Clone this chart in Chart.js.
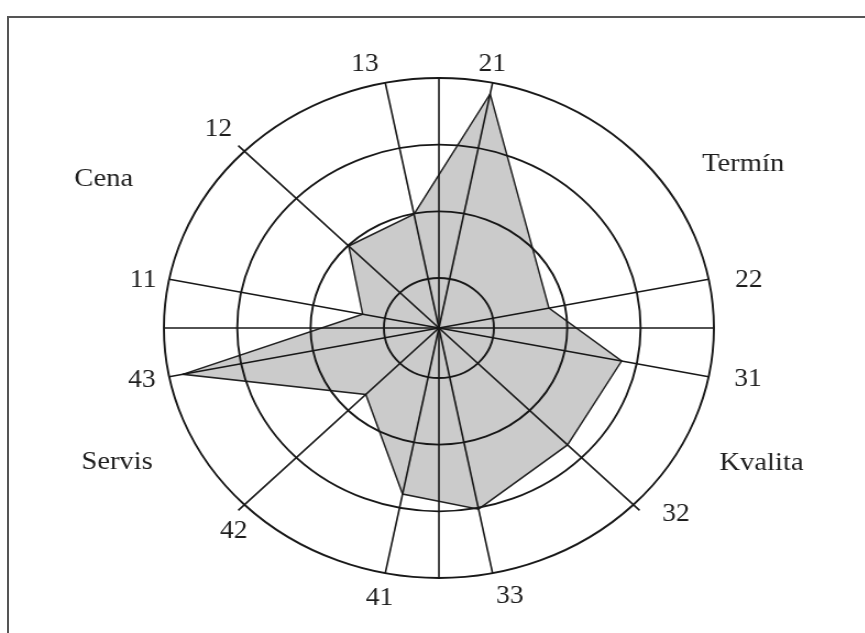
<!DOCTYPE html>
<html><head><meta charset="utf-8">
<script src="https://cdn.jsdelivr.net/npm/chart.js@4.4.1/dist/chart.umd.min.js"></script>
<style>
html,body{margin:0;padding:0;background:#fff;}
body{width:865px;height:633px;overflow:hidden;position:relative;}
#frame{position:absolute;left:7px;top:16px;width:900px;height:700px;border-left:2px solid #555;border-top:2px solid #555;}
#wrap{position:absolute;left:0;top:0;width:786px;height:633px;transform:scaleX(1.1);transform-origin:0 0;}
</style></head><body>
<div id="frame"></div>
<div id="wrap"><canvas id="c"></canvas></div>
<script>
// ---- data ----
const criteria = ['21','22','31','32','33','41','42','43','11','12','13'];
const scores   = [3.83, 1.78, 2.79, 2.73, 3.02, 2.79, 1.66, 3.81, 1.31, 1.99, 1.99];
const groups   = ['Termín','Kvalita','Servis','Cena'];
const ringTicks = [0.25, 1, 2, 3, 4];

// ---- layout (angular slots of 11.25°) ----
const SLOTS = 32;
const criterionSlot = [1, 7, 9, 12, 15, 17, 20, 23, 25, 28, 31];
const axisSlots = [0, 8, 16, 24];
const longSlots = [12, 20, 28];
const criterionLabelPos = [[10.4,268],[80.5,285.6],[100.4,285.6],[130.9,285],[166.5,276],[191.3,275.3],[222.5,276],[259,275],[280,273],[314.7,282],[345.7,272]];
const groupLabelPos = [[59.3,321.6],[114.8,323],[245.3,322],[296,339]];

const labels = new Array(SLOTS).fill('');
const values = new Array(SLOTS).fill(null);
criterionSlot.forEach((s, i) => { labels[s] = criteria[i]; values[s] = scores[i]; });
const shortSlots = axisSlots.concat(criterionSlot.filter(s => !longSlots.includes(s)));

const LINE = '#181818';

const labelPlugin = {
  id: 'labelPlugin',
  afterDraw(chart) {
    const sc = chart.scales.r;
    const ctx = chart.ctx;
    ctx.save();
    ctx.fillStyle = '#1e1e1e';
    ctx.textAlign = 'center';
    ctx.textBaseline = 'middle';
    const put = (text, pos, size) => {
      const p = sc.getPointPosition(0, pos[1], pos[0] * Math.PI / 180);
      ctx.font = size + 'px "Liberation Serif", "Times New Roman", serif';
      ctx.fillText(text, p.x, p.y);
    };
    criterionSlot.forEach((s, i) => put(labels[s], criterionLabelPos[i], 25));
    groups.forEach((g, i) => put(g, groupLabelPos[i], 26));
    ctx.restore();
  }
};

new Chart(document.getElementById('c'), {
  type: 'radar',
  data: {
    labels: labels,
    datasets: [{
      data: values,
      rAxisID: 'r',
      spanGaps: true,
      fill: 'start',
      backgroundColor: '#cbcbcb',
      borderColor: '#222222',
      borderWidth: 1.5,
      pointRadius: 0,
      pointHoverRadius: 0,
      tension: 0
    }]
  },
  options: {
    responsive: true,
    maintainAspectRatio: false,
    animation: false,
    events: [],
    layout: { padding: { left: 141, top: 70, right: 129, bottom: 47 } },
    plugins: { legend: { display: false }, tooltip: { enabled: false } },
    scales: {
      r: {
        type: 'radialLinear', axis: 'r',
        min: 0.25, max: 4,
        afterBuildTicks: (s) => { s.ticks = ringTicks.map(v => ({ value: v })); },
        ticks: { display: true, color: 'rgba(0,0,0,0)', showLabelBackdrop: false, font: { size: 12 }, backdropPadding: 2, z: 1 },
        grid: { circular: true, color: LINE, lineWidth: 1.9, z: 1 },
        angleLines: { display: true, color: LINE, lineWidth: (c) => (shortSlots.includes(c.index) ? 1.6 : 0) },
        pointLabels: { display: false }
      },
      rd: {
        type: 'radialLinear', axis: 'r',
        min: 0, max: 1,
        ticks: { display: false },
        grid: { display: false, z: 1 },
        angleLines: { display: true, color: LINE, lineWidth: (c) => (longSlots.includes(c.index) ? 1.6 : 0) },
        pointLabels: { display: false }
      }
    }
  },
  plugins: [labelPlugin]
});
</script>
</body></html>
